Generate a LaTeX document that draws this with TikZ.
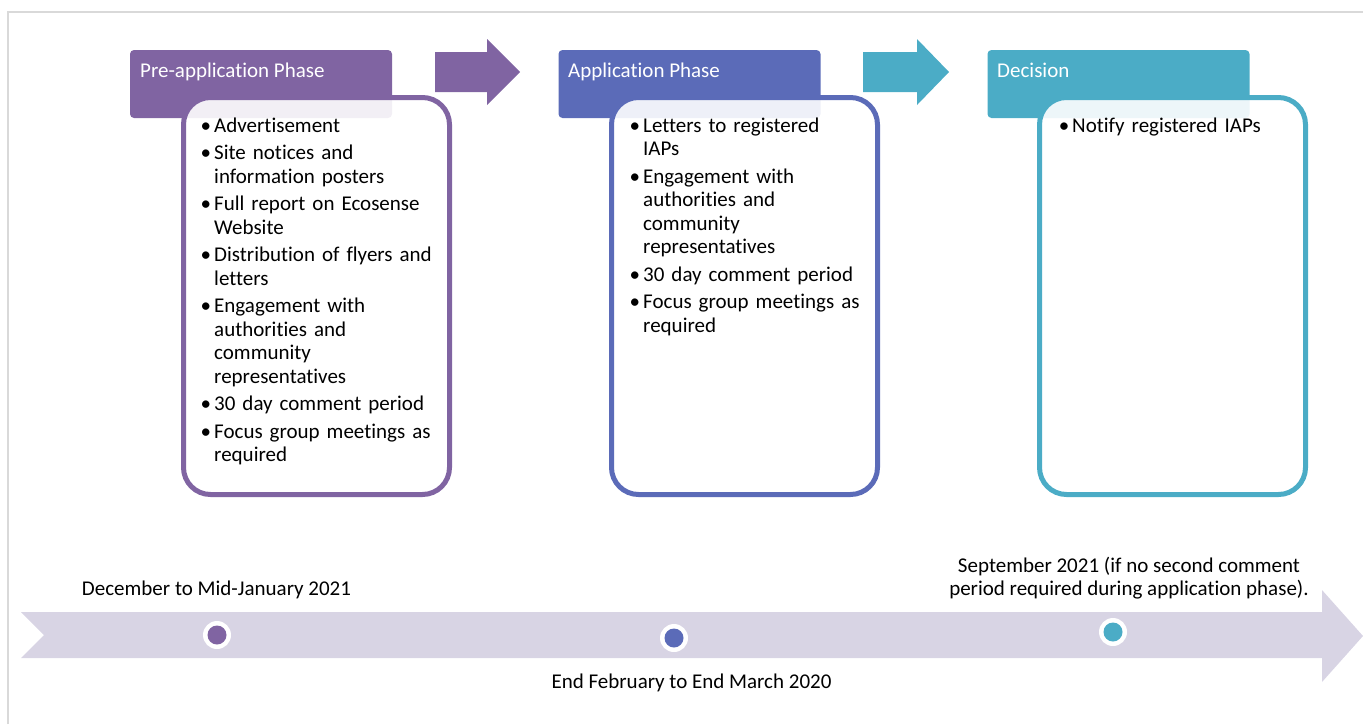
\documentclass[tikz,border=0pt]{standalone}
\usepackage{fontspec}
\setmainfont{Carlito}[Ligatures={NoCommon}]
\definecolor{phaseA}{HTML}{8064A2}
\definecolor{phaseB}{HTML}{5B6BB8}
\definecolor{phaseC}{HTML}{4BACC6}
\definecolor{band}{HTML}{D8D4E4}
\definecolor{framegray}{HTML}{D9D9D9}
% hanging bullet placed in the left margin of a list line
\newcommand{\bul}{\makebox[0pt][r]{\textbullet\hspace{3pt}}}
\begin{document}
\begin{tikzpicture}[x=1pt,y=-1pt,
  header/.style={rounded corners=4pt, minimum width=262pt, minimum height=68pt, inner sep=0pt},
  hdrtext/.style={text=white, font=\fontsize{21}{24}\selectfont, inner sep=0pt, anchor=base west},
  card/.style={line width=5pt, rounded corners=27pt, fill=white, fill opacity=0.9,
               minimum width=266pt, minimum height=397pt, inner sep=0pt},
  items/.style={anchor=north west, inner sep=0pt, text width=240pt, align=left,
                font=\fontsize{21}{23.5}\selectfont},
  datetext/.style={font=\fontsize{21}{23.5}\selectfont, inner sep=0pt, align=center},
  ring/.style={circle, fill=white, minimum size=28pt, inner sep=0pt},
  dot/.style={circle, minimum size=19pt, inner sep=0pt}
]
\useasboundingbox (0,0) rectangle (1363,724);

% outer frame
\draw[framegray, line width=1.5pt] (8,724) -- (8,12) -- (1363,12);

% phase headers
\node[header, fill=phaseA] (h1) at (261,84) {};
\node[header, fill=phaseB] (h2) at (689.5,84) {};
\node[header, fill=phaseC] (h3) at (1118.5,84) {};
\node[hdrtext] (h1t) at (140,77) {Pre-application Phase};
\node[hdrtext] (h2t) at (568,77) {Application Phase};
\node[hdrtext] (h3t) at (997,77) {Decision};

% arrows between phases
\fill[phaseA] (435,52) -- (487,52) -- (487,39) -- (520,72) -- (487,105) -- (487,92) -- (435,92) -- cycle;
\fill[phaseC] (863,52) -- (917,52) -- (917,39) -- (949,72) -- (917,105) -- (917,92) -- (863,92) -- cycle;

% content cards
\node[card, draw=phaseA] (c1) at (316.5,296) {};
\node[card, draw=phaseB] (c2) at (744.5,296) {};
\node[card, draw=phaseC] (c3) at (1172.5,296) {};

\node[items] (l1) at (214,117.5) {\setlength{\parskip}{4pt}%
\bul Advertisement\par
\bul Site notices and\newline information posters\par
\bul Full report on Ecosense\newline Website\par
\bul Distribution of flyers and\newline letters\par
\bul Engagement with\newline authorities and\newline community\newline representatives\par
\bul 30 day comment period\par
\bul Focus group meetings as\newline required};

\node[items] (l2) at (643,117.5) {\setlength{\parskip}{4pt}%
\bul Letters to registered\newline IAPs\par
\bul Engagement with\newline authorities and\newline community\newline representatives\par
\bul 30 day comment period\par
\bul Focus group meetings as\newline required};

\node[items] (l3) at (1072,117.5) {\bul Notify registered IAPs};

% timeline band
\fill[band] (21,612) -- (1322,612) -- (1322,590) -- (1363,636) -- (1322,682) -- (1322,658)
  -- (21,658) -- (44,635) -- cycle;

\node[ring] (r1) at (217,635) {};
\node[dot, fill=phaseA] (m1) at (r1) {};
\node[ring] (r2) at (674,638) {};
\node[dot, fill=phaseB] (m2) at (r2) {};
\node[ring] (r3) at (1113,632) {};
\node[dot, fill=phaseC] (m3) at (r3) {};

\node[datetext, anchor=base] (d1) at (216.5,595) {December to Mid-January 2021};
\node[datetext, anchor=base] (d2) at (691.5,688) {End February to End March 2020};
\node[datetext] (d3) at (1129,578) {September 2021 (if no second comment\\period required during application phase).};
\end{tikzpicture}
\end{document}
